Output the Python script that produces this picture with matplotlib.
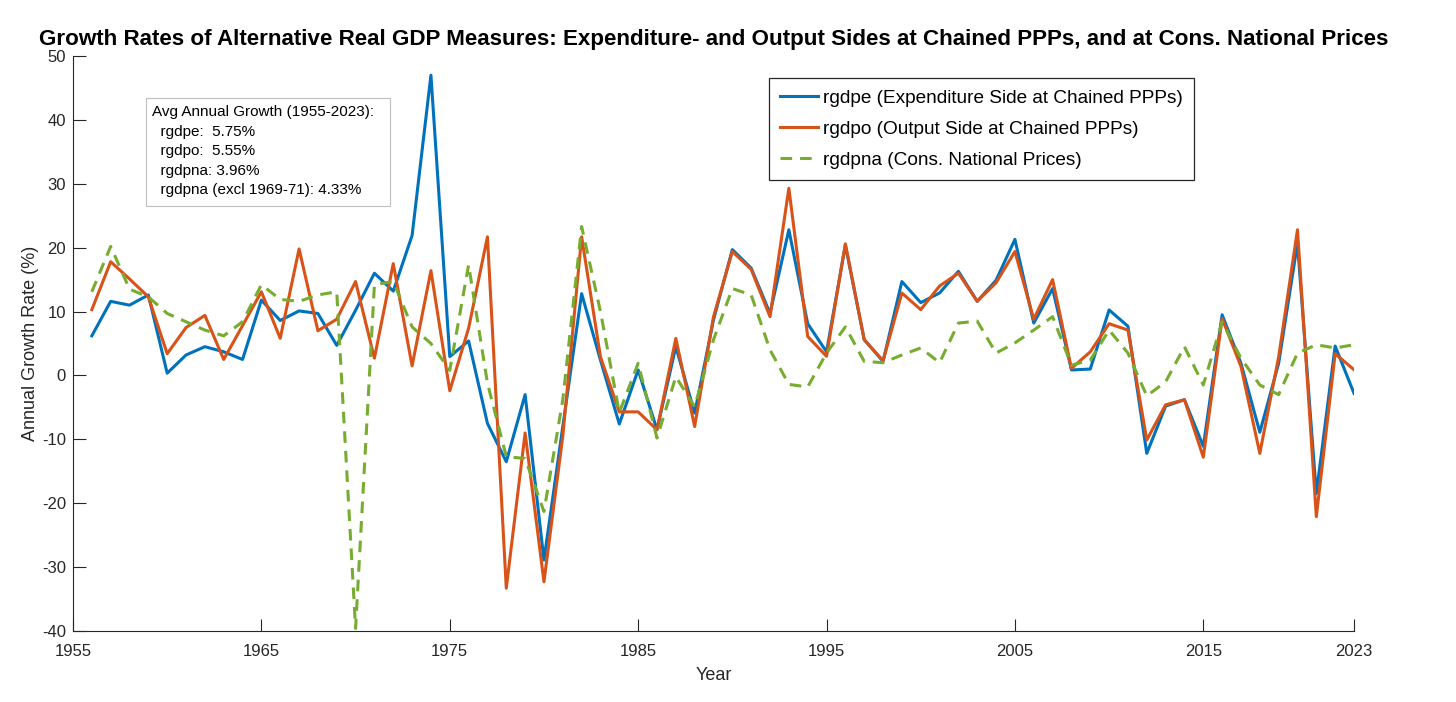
import numpy as np
import matplotlib
matplotlib.use("Agg")
import matplotlib.pyplot as plt
from matplotlib.patches import Rectangle

plt.rcParams['font.family'] = ['Liberation Sans', 'DejaVu Sans']
plt.rcParams['axes.unicode_minus'] = False

years = list(range(1956, 2024))

rgdpe = [6.2, 11.6, 11.0, 12.6, 0.35, 3.2, 4.5, 3.7, 2.5, 11.8,
         8.6, 10.1, 9.7, 4.7, 10.2, 16.0, 13.2, 21.9, 47.0, 2.95,
         5.4, -7.5, -13.5, -3.0, -28.9, -8.0, 12.8, 2.4, -7.6, 0.86,
         -8.5, 4.5, -5.9, 8.7, 19.7, 16.8, 9.7, 22.8, 8.1, 3.7,
         20.4, 5.6, 2.2, 14.7, 11.4, 12.9, 16.3, 11.6, 14.9, 21.3,
         8.2, 13.6, 0.86, 1.0, 10.25, 7.7, -12.2, -4.8, -3.8, -11.1,
         9.5, 1.9, -8.9, 1.9, 20.7, -18.5, 4.6, -2.8]

rgdpo = [10.3, 17.8, 15.1, 12.3, 3.4, 7.5, 9.4, 2.5, 7.8, 13.1,
         5.8, 19.8, 7.0, 8.8, 14.7, 2.7, 17.5, 1.5, 16.4, -2.4,
         7.4, 21.7, -33.3, -9.0, -32.3, -9.5, 21.7, 2.9, -5.7, -5.7,
         -8.5, 5.8, -8.0, 9.2, 19.4, 16.6, 9.2, 29.3, 6.1, 3.0,
         20.6, 5.6, 2.3, 12.9, 10.3, 14.0, 16.0, 11.6, 14.5, 19.4,
         8.8, 15.0, 1.1, 3.7, 8.1, 7.1, -10.1, -4.6, -3.8, -12.8,
         8.9, 1.4, -12.2, 2.9, 22.8, -22.1, 3.4, 0.9]

rgdpna = [13.1, 20.2, 13.5, 12.3, 9.7, 8.4, 7.1, 6.2, 8.4, 14.2,
          11.9, 11.6, 12.6, 13.1, -39.6, 14.2, 14.7, 7.6, 5.0, 0.8,
          17.3, -1.2, -12.7, -13.0, -21.3, -3.8, 23.3, 10.0, -5.8, 1.9,
          -9.8, -0.2, -4.9, 5.6, 13.6, 12.6, 4.0, -1.4, -1.8, 3.5,
          7.6, 2.2, 2.0, 3.2, 4.3, 2.0, 8.2, 8.5, 3.5, 5.1,
          7.1, 9.2, 1.6, 2.4, 7.1, 3.5, -3.2, -1.0, 4.5, -1.5,
          8.4, 2.7, -1.5, -3.0, 3.5, 4.8, 4.3, 4.8]

labels = ["rgdpe (Expenditure Side at Chained PPPs)",
          "rgdpo (Output Side at Chained PPPs)",
          "rgdpna (Cons. National Prices)"]
xticks = [1955, 1965, 1975, 1985, 1995, 2005, 2015, 2023]
yticks = [-40, -30, -20, -10, 0, 10, 20, 30, 40, 50]
avg_text = ("Avg Annual Growth (1955-2023):\n"
            "  rgdpe:  5.75%\n"
            "  rgdpo:  5.55%\n"
            "  rgdpna: 3.96%\n"
            "  rgdpna (excl 1969-71): 4.33%")
title = ("Growth Rates of Alternative Real GDP Measures: Expenditure- and Output "
         "Sides at Chained PPPs, and at Cons. National Prices")

axc = '#262626'
W, H = 1456, 702
L, R, T, B = 73, 1354, 56, 631
fig = plt.figure(figsize=(W/100, H/100), dpi=100)
ax = fig.add_axes([L/W, 1 - B/H, (R-L)/W, (B-T)/H])

def fx(px):
    return (px - L) / (R - L)

def fy(py):
    return (B - py) / (B - T)

ax.plot(years, rgdpe, color='#0072BD', lw=2.2, label=labels[0])
ax.plot(years, rgdpo, color='#D95319', lw=2.2, label=labels[1])
ax.plot(years, rgdpna, color='#77AC30', lw=2.2, ls=(0, (3.8, 2.6)), label=labels[2])

ax.set_xlim(1955, 2023)
ax.set_ylim(-40, 50)
ax.set_xticks(xticks)
ax.set_yticks(yticks)
for s in ['top', 'right']:
    ax.spines[s].set_visible(False)
for s in ['left', 'bottom']:
    ax.spines[s].set_color(axc)
    ax.spines[s].set_linewidth(0.8)
ax.tick_params(direction='in', length=9, width=0.8, colors=axc, labelsize=12)
ax.tick_params(axis='x', pad=9)
ax.tick_params(axis='y', pad=5)

ax.set_xlabel("Year", fontsize=13, color=axc, labelpad=6)
ax.set_ylabel("Annual Growth Rate (%)", fontsize=13, color=axc, labelpad=2)
ax.set_title(title, fontsize=16.1, fontweight='bold', pad=8)

leg = ax.legend(loc='upper left', bbox_to_anchor=(fx(769), fy(78)), borderaxespad=0,
                fontsize=13.7, fancybox=False, framealpha=1, edgecolor='#262626',
                handlelength=2.0, handletextpad=0.25, labelspacing=0.72, borderpad=0.6)
leg.get_frame().set_linewidth(0.9)

ax.add_patch(Rectangle((fx(145.7), fy(205.7)), fx(390) - fx(145.7), fy(98.3) - fy(205.7),
                       transform=ax.transAxes, facecolor='white', edgecolor='#BFBFBF',
                       lw=0.8, zorder=5))
ax.text(fx(151.5), fy(105.5), avg_text, transform=ax.transAxes,
        fontsize=11, va='top', ha='left', linespacing=1.5, color='#000000', zorder=6)

fig.savefig("out.png", dpi=100)
